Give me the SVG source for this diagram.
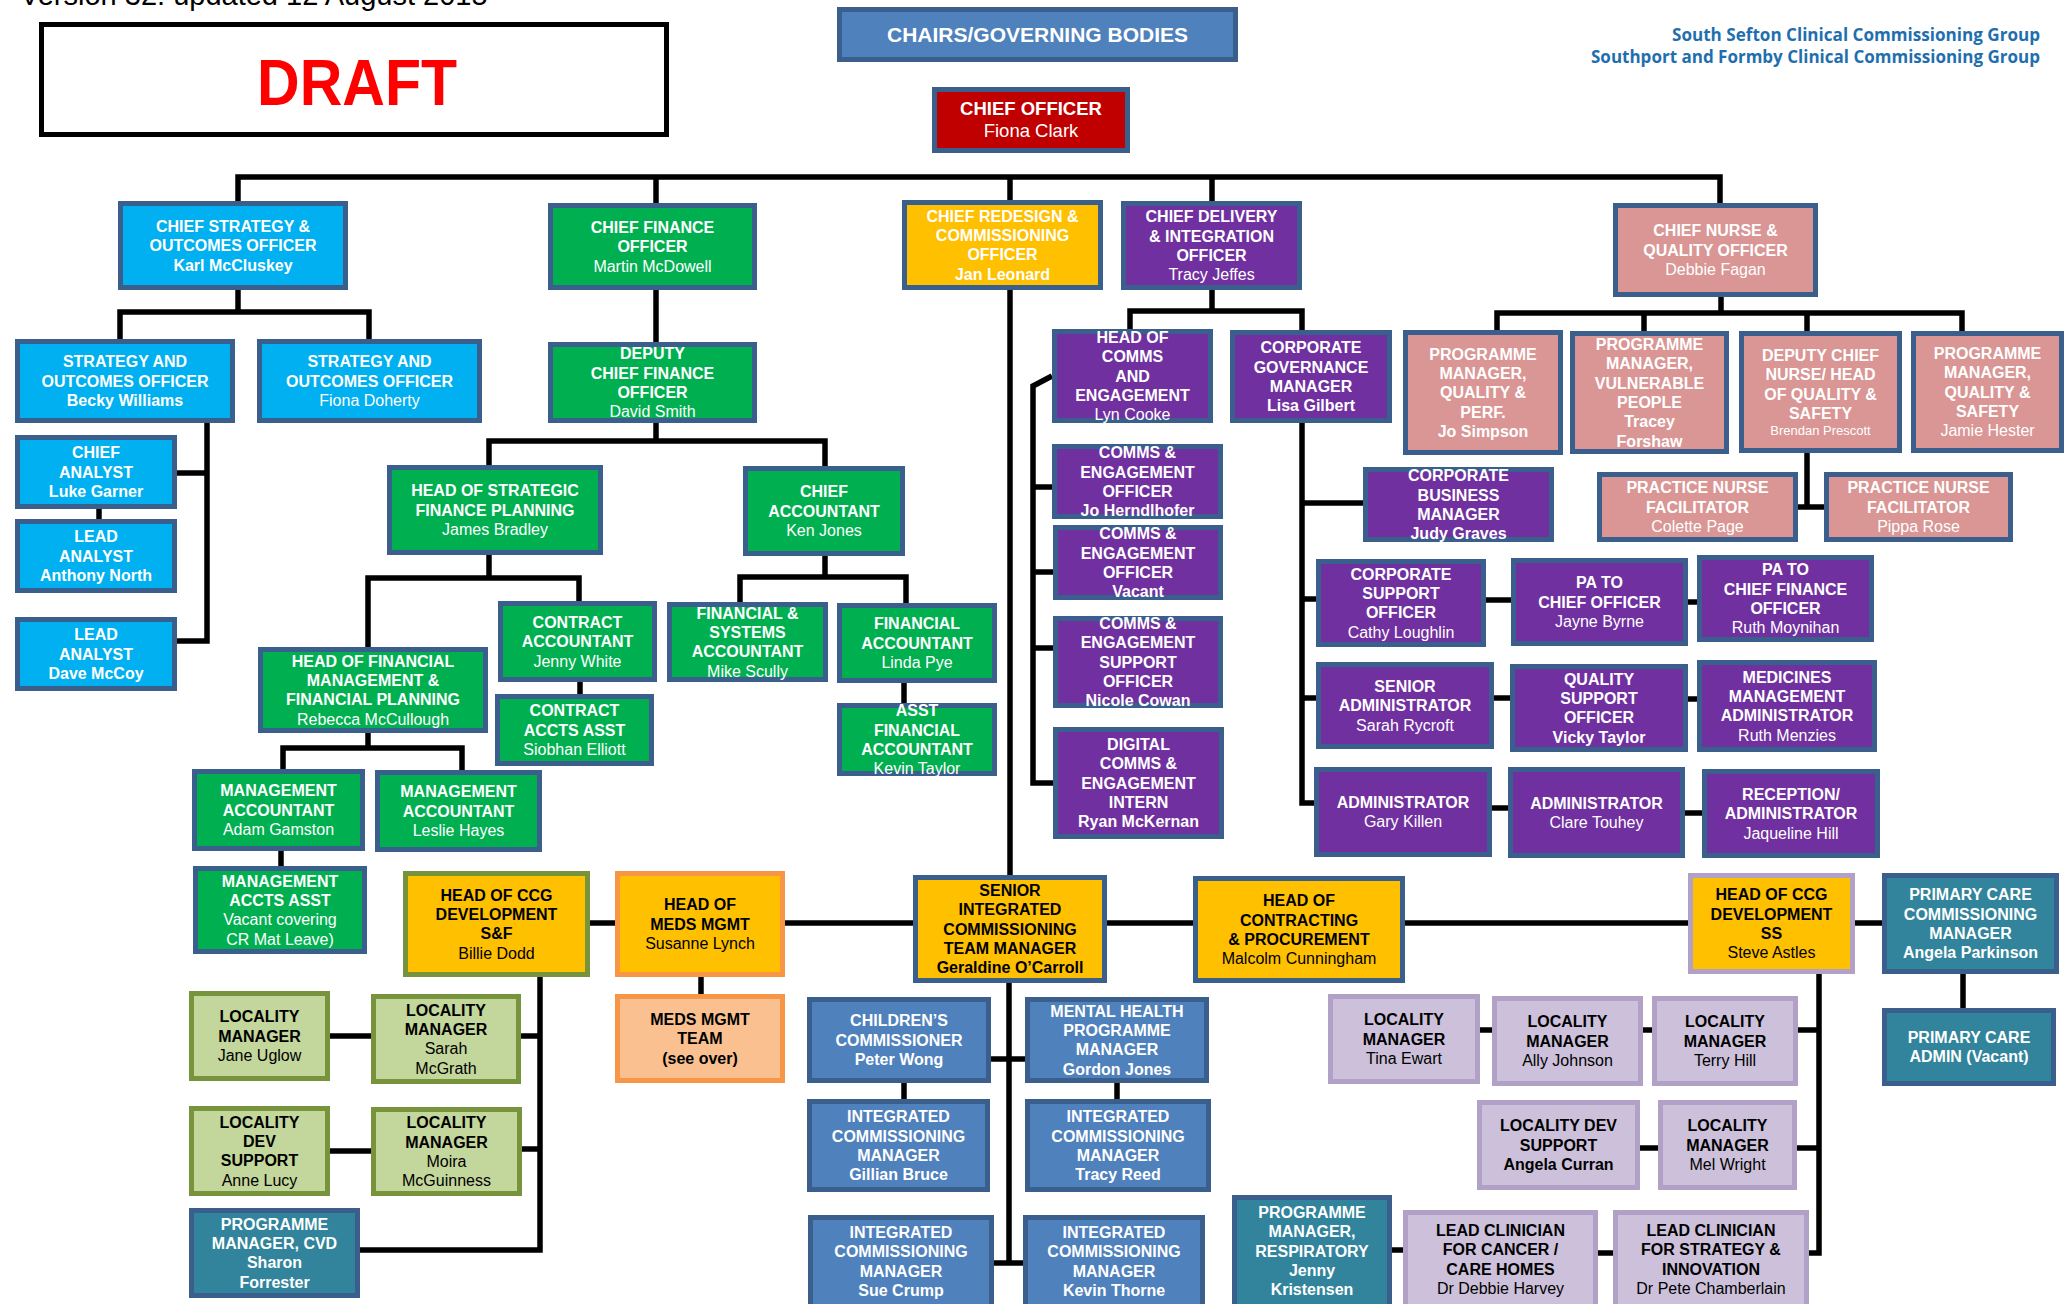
<svg xmlns="http://www.w3.org/2000/svg" width="2065" height="1304" viewBox="0 0 2065 1304">
<style>
.bx{stroke:#3a5f8d;stroke-width:5}
.cy{fill:#00b0f0}.gr{fill:#00b050}.ye{fill:#ffc000}.pu{fill:#7030a0}.pk{fill:#d99694}.bl{fill:#4f81bd}.te{fill:#31849b}.rd{fill:#c00000}
.lg{fill:#c3d69b;stroke:#77933c}.lv{fill:#ccc0da;stroke:#b2a1c7}.pe{fill:#fac090;stroke:#f79646}
.sg{stroke:#77933c}.so{stroke:#f79646}.sl{stroke:#b2a1c7}
text{font-family:"Liberation Sans",Arial,Helvetica,sans-serif}
.t{font-size:16px;font-weight:bold;text-anchor:middle;fill:#fff}
.k{fill:#000}
.r{font-weight:normal}
.c path{fill:none;stroke:#000;stroke-width:5.5}
.logo{font-family:"Open Sans","Liberation Sans",sans-serif;font-weight:bold;font-size:17px;fill:#1f6fae;text-anchor:end}
</style>
<rect width="2065" height="1304" fill="#fff"/>
<g id="header">
<text x="20" y="5" font-size="29" fill="#000">Version 32: updated 12 August 2015</text>
<rect x="41.5" y="24.5" width="625" height="110" fill="#fff" stroke="#000" stroke-width="5"/>
<text x="257" y="105" font-size="64" font-weight="bold" fill="#ff0000" textLength="200" lengthAdjust="spacingAndGlyphs">DRAFT</text>
<text class="logo" x="2040" y="41" textLength="368" lengthAdjust="spacingAndGlyphs">South Sefton Clinical Commissioning Group</text>
<text class="logo" x="2040" y="63" textLength="449" lengthAdjust="spacingAndGlyphs">Southport and Formby Clinical Commissioning Group</text>
</g>
<g id="connectors" class="c">
<path d="M238,201 V177 H1720 V203"/>
<path d="M656,177 V203"/><path d="M1010,177 V875"/><path d="M1212,177 V201"/>
<path d="M238,290 V312"/><path d="M120,339 V312 H369 V339"/>
<path d="M177,641 H207 V423"/><path d="M177,473 H207"/><path d="M99,509 V519"/>
<path d="M656,290 V342"/><path d="M656,423 V441"/><path d="M489,465 V441 H825 V466"/>
<path d="M489,555 V578"/><path d="M368,647 V578 H579 V601"/><path d="M580,682 V694"/>
<path d="M368,733 V748"/><path d="M283,769 V748 H462 V770"/><path d="M281,851 V866"/>
<path d="M825,556 V577"/><path d="M740,602 V577 H906 V603"/><path d="M904,683 V703"/>
<path d="M1212,290 V311"/><path d="M1130,329 V311 H1302 V330"/>
<path d="M1052,376 L1033,386 V783 H1053"/><path d="M1033,487 H1052"/><path d="M1033,572 H1053"/><path d="M1033,648 H1053"/>
<path d="M1302,423 V803 H1314"/><path d="M1302,503 H1363"/><path d="M1302,599 H1316"/><path d="M1302,698 H1316"/>
<path d="M1486,600 H1511"/><path d="M1688,602 H1697"/><path d="M1494,698 H1510"/><path d="M1688,699 H1697"/><path d="M1492,808 H1508"/><path d="M1685,813 H1702"/>
<path d="M1721,297 V313"/><path d="M1497,330 V313 H1962 V331"/><path d="M1644,313 V331"/><path d="M1807,313 V331"/>
<path d="M1807,453 V507"/><path d="M1798,507 H1824"/>
<path d="M590,923 H1882"/>
<path d="M1009,983 V1263"/><path d="M991,1059 H1025"/><path d="M994,1263 H1023"/>
<path d="M904,1083 V1099"/><path d="M1117,1083 V1099"/>
<path d="M540,977 V1250 H360"/><path d="M521,1036 H540"/><path d="M522,1149 H540"/><path d="M330,1036 H371"/><path d="M330,1151 H371"/>
<path d="M701,977 V994"/>
<path d="M1819,974 V1253 H1809"/><path d="M1798,1030 H1819"/><path d="M1797,1148 H1819"/>
<path d="M1480,1030 H1492"/><path d="M1643,1030 H1652"/><path d="M1640,1148 H1658"/><path d="M1598,1253 H1613"/><path d="M1392,1250 H1403"/>
<path d="M1963,974 V1008"/>
</g>
<g id="n-chairs"><rect class="bx bl" x="839.5" y="9.5" width="396" height="50"/><text class="t" x="1037.5" y="42" style="font-size:21px">CHAIRS/GOVERNING BODIES</text></g>
<g id="n-chief-officer"><rect class="bx rd" x="934.5" y="89.5" width="193" height="61"/><text class="t" style="font-size:18.5px"><tspan x="1031" y="115">CHIEF OFFICER</tspan><tspan class="r" x="1031" y="137">Fiona Clark</tspan></text></g>
<g id="n-chief-strategy"><rect class="bx cy" x="120.5" y="203.5" width="225" height="84"/><text class="t"><tspan x="233" y="231.9">CHIEF STRATEGY &amp;</tspan><tspan x="233" y="251.2">OUTCOMES OFFICER</tspan><tspan x="233" y="270.5">Karl McCluskey</tspan></text></g>
<g id="n-cfo"><rect class="bx gr" x="550.5" y="205.5" width="204" height="82"/><text class="t"><tspan x="652.5" y="232.9">CHIEF FINANCE</tspan><tspan x="652.5" y="252.2">OFFICER</tspan><tspan class="r" x="652.5" y="271.5">Martin McDowell</tspan></text></g>
<g id="n-redesign"><rect class="bx ye" x="904.5" y="202.5" width="196" height="85"/><text class="t"><tspan x="1002.5" y="221.8">CHIEF REDESIGN &amp;</tspan><tspan x="1002.5" y="241.1">COMMISSIONING</tspan><tspan x="1002.5" y="260.4">OFFICER</tspan><tspan x="1002.5" y="279.7">Jan Leonard</tspan></text></g>
<g id="n-delivery"><rect class="bx pu" x="1123.5" y="203.5" width="176" height="84"/><text class="t"><tspan x="1211.5" y="222.3">CHIEF DELIVERY</tspan><tspan x="1211.5" y="241.6">&amp; INTEGRATION</tspan><tspan x="1211.5" y="260.9">OFFICER</tspan><tspan class="r" x="1211.5" y="280.2">Tracy Jeffes</tspan></text></g>
<g id="n-chief-nurse"><rect class="bx pk" x="1615.5" y="205.5" width="200" height="89"/><text class="t"><tspan x="1715.5" y="236.4">CHIEF NURSE &amp;</tspan><tspan x="1715.5" y="255.7">QUALITY OFFICER</tspan><tspan class="r" x="1715.5" y="275">Debbie Fagan</tspan></text></g>
<g id="n-becky"><rect class="bx cy" x="17.5" y="341.5" width="215" height="79"/><text class="t"><tspan x="125" y="367.4">STRATEGY AND</tspan><tspan x="125" y="386.7">OUTCOMES OFFICER</tspan><tspan x="125" y="406">Becky Williams</tspan></text></g>
<g id="n-fiona"><rect class="bx cy" x="259.5" y="341.5" width="220" height="79"/><text class="t"><tspan x="369.5" y="367.4">STRATEGY AND</tspan><tspan x="369.5" y="386.7">OUTCOMES OFFICER</tspan><tspan class="r" x="369.5" y="406">Fiona Doherty</tspan></text></g>
<g id="n-deputy-cfo"><rect class="bx gr" x="550.5" y="344.5" width="204" height="76"/><text class="t"><tspan x="652.5" y="359.2">DEPUTY</tspan><tspan x="652.5" y="378.5">CHIEF FINANCE</tspan><tspan x="652.5" y="397.8">OFFICER</tspan><tspan class="r" x="652.5" y="417.1">David Smith</tspan></text></g>
<g id="n-head-comms"><rect class="bx pu" x="1054.5" y="331.5" width="156" height="89"/><text class="t"><tspan x="1132.5" y="343.1">HEAD OF</tspan><tspan x="1132.5" y="362.4">COMMS</tspan><tspan x="1132.5" y="381.7">AND</tspan><tspan x="1132.5" y="401">ENGAGEMENT</tspan><tspan class="r" x="1132.5" y="420.3">Lyn Cooke</tspan></text></g>
<g id="n-corp-gov"><rect class="bx pu" x="1232.5" y="332.5" width="157" height="88"/><text class="t"><tspan x="1311" y="353.2">CORPORATE</tspan><tspan x="1311" y="372.5">GOVERNANCE</tspan><tspan x="1311" y="391.8">MANAGER</tspan><tspan x="1311" y="411.1">Lisa Gilbert</tspan></text></g>
<g id="n-jo-simpson"><rect class="bx pk" x="1405.5" y="332.5" width="155" height="120"/><text class="t"><tspan x="1483" y="359.6">PROGRAMME</tspan><tspan x="1483" y="378.9">MANAGER,</tspan><tspan x="1483" y="398.2">QUALITY &amp;</tspan><tspan x="1483" y="417.5">PERF.</tspan><tspan x="1483" y="436.8">Jo Simpson</tspan></text></g>
<g id="n-tracey"><rect class="bx pk" x="1572.5" y="333.5" width="154" height="118"/><text class="t"><tspan x="1649.5" y="350">PROGRAMME</tspan><tspan x="1649.5" y="369.3">MANAGER,</tspan><tspan x="1649.5" y="388.6">VULNERABLE</tspan><tspan x="1649.5" y="407.9">PEOPLE</tspan><tspan x="1649.5" y="427.2">Tracey</tspan><tspan x="1649.5" y="446.5">Forshaw</tspan></text></g>
<g id="n-brendan"><rect class="bx pk" x="1741.5" y="333.5" width="158" height="117"/><text class="t"><tspan x="1820.5" y="361">DEPUTY CHIEF</tspan><tspan x="1820.5" y="380.3">NURSE/ HEAD</tspan><tspan x="1820.5" y="399.6">OF QUALITY &amp;</tspan><tspan x="1820.5" y="418.9">SAFETY</tspan><tspan class="r" x="1820.5" y="435" style="font-size:13px">Brendan Prescott</tspan></text></g>
<g id="n-jamie"><rect class="bx pk" x="1913.5" y="333.5" width="148" height="117"/><text class="t"><tspan x="1987.5" y="359.1">PROGRAMME</tspan><tspan x="1987.5" y="378.4">MANAGER,</tspan><tspan x="1987.5" y="397.7">QUALITY &amp;</tspan><tspan x="1987.5" y="417">SAFETY</tspan><tspan class="r" x="1987.5" y="436.3">Jamie Hester</tspan></text></g>
<g id="n-luke"><rect class="bx cy" x="17.5" y="437.5" width="157" height="69"/><text class="t"><tspan x="96" y="458.4">CHIEF</tspan><tspan x="96" y="477.7">ANALYST</tspan><tspan x="96" y="497">Luke Garner</tspan></text></g>
<g id="n-anthony"><rect class="bx cy" x="17.5" y="521.5" width="157" height="69"/><text class="t"><tspan x="96" y="542.4">LEAD</tspan><tspan x="96" y="561.7">ANALYST</tspan><tspan x="96" y="581">Anthony North</tspan></text></g>
<g id="n-dave"><rect class="bx cy" x="17.5" y="619.5" width="157" height="69"/><text class="t"><tspan x="96" y="640.4">LEAD</tspan><tspan x="96" y="659.7">ANALYST</tspan><tspan x="96" y="679">Dave McCoy</tspan></text></g>
<g id="n-james"><rect class="bx gr" x="389.5" y="467.5" width="211" height="85"/><text class="t"><tspan x="495" y="496.4">HEAD OF STRATEGIC</tspan><tspan x="495" y="515.7">FINANCE PLANNING</tspan><tspan class="r" x="495" y="535">James Bradley</tspan></text></g>
<g id="n-ken"><rect class="bx gr" x="745.5" y="468.5" width="157" height="85"/><text class="t"><tspan x="824" y="497.4">CHIEF</tspan><tspan x="824" y="516.7">ACCOUNTANT</tspan><tspan class="r" x="824" y="536">Ken Jones</tspan></text></g>
<g id="n-rebecca"><rect class="bx gr" x="260.5" y="649.5" width="225" height="81"/><text class="t"><tspan x="373" y="666.75">HEAD OF FINANCIAL</tspan><tspan x="373" y="686.05">MANAGEMENT &amp;</tspan><tspan x="373" y="705.35">FINANCIAL PLANNING</tspan><tspan class="r" x="373" y="724.65">Rebecca McCullough</tspan></text></g>
<g id="n-jenny"><rect class="bx gr" x="500.5" y="603.5" width="154" height="76"/><text class="t"><tspan x="577.5" y="627.9">CONTRACT</tspan><tspan x="577.5" y="647.2">ACCOUNTANT</tspan><tspan class="r" x="577.5" y="666.5">Jenny White</tspan></text></g>
<g id="n-siobhan"><rect class="bx gr" x="497.5" y="696.5" width="154" height="67"/><text class="t"><tspan x="574.5" y="716.4">CONTRACT</tspan><tspan x="574.5" y="735.7">ACCTS ASST</tspan><tspan class="r" x="574.5" y="755">Siobhan Elliott</tspan></text></g>
<g id="n-mike"><rect class="bx gr" x="669.5" y="604.5" width="156" height="75"/><text class="t"><tspan x="747.5" y="618.75">FINANCIAL &amp;</tspan><tspan x="747.5" y="638.05">SYSTEMS</tspan><tspan x="747.5" y="657.35">ACCOUNTANT</tspan><tspan class="r" x="747.5" y="676.65">Mike Scully</tspan></text></g>
<g id="n-linda"><rect class="bx gr" x="839.5" y="605.5" width="155" height="75"/><text class="t"><tspan x="917" y="629.4">FINANCIAL</tspan><tspan x="917" y="648.7">ACCOUNTANT</tspan><tspan class="r" x="917" y="668">Linda Pye</tspan></text></g>
<g id="n-kevin-taylor"><rect class="bx gr" x="839.5" y="705.5" width="155" height="68"/><text class="t"><tspan x="917" y="716.25">ASST</tspan><tspan x="917" y="735.55">FINANCIAL</tspan><tspan x="917" y="754.85">ACCOUNTANT</tspan><tspan class="r" x="917" y="774.15">Kevin Taylor</tspan></text></g>
<g id="n-adam"><rect class="bx gr" x="194.5" y="771.5" width="168" height="77"/><text class="t"><tspan x="278.5" y="796.4">MANAGEMENT</tspan><tspan x="278.5" y="815.7">ACCOUNTANT</tspan><tspan class="r" x="278.5" y="835">Adam Gamston</tspan></text></g>
<g id="n-leslie"><rect class="bx gr" x="377.5" y="772.5" width="162" height="77"/><text class="t"><tspan x="458.5" y="797.4">MANAGEMENT</tspan><tspan x="458.5" y="816.7">ACCOUNTANT</tspan><tspan class="r" x="458.5" y="836">Leslie Hayes</tspan></text></g>
<g id="n-mgmt-asst"><rect class="bx gr" x="195.5" y="868.5" width="169" height="83"/><text class="t"><tspan x="280" y="886.75">MANAGEMENT</tspan><tspan x="280" y="906.05">ACCTS ASST</tspan><tspan class="r" x="280" y="925.35">Vacant covering</tspan><tspan class="r" x="280" y="944.65">CR Mat Leave)</tspan></text></g>
<g id="n-comms-jo"><rect class="bx pu" x="1054.5" y="446.5" width="166" height="70"/><text class="t"><tspan x="1137.5" y="458.25">COMMS &amp;</tspan><tspan x="1137.5" y="477.55">ENGAGEMENT</tspan><tspan x="1137.5" y="496.85">OFFICER</tspan><tspan x="1137.5" y="516.15">Jo Herndlhofer</tspan></text></g>
<g id="n-comms-vacant"><rect class="bx pu" x="1055.5" y="527.5" width="165" height="70"/><text class="t"><tspan x="1138" y="539.25">COMMS &amp;</tspan><tspan x="1138" y="558.55">ENGAGEMENT</tspan><tspan x="1138" y="577.85">OFFICER</tspan><tspan x="1138" y="597.15">Vacant</tspan></text></g>
<g id="n-nicole"><rect class="bx pu" x="1055.5" y="618.5" width="165" height="87"/><text class="t"><tspan x="1138" y="629.1">COMMS &amp;</tspan><tspan x="1138" y="648.4">ENGAGEMENT</tspan><tspan x="1138" y="667.7">SUPPORT</tspan><tspan x="1138" y="687">OFFICER</tspan><tspan x="1138" y="706.3">Nicole Cowan</tspan></text></g>
<g id="n-ryan"><rect class="bx pu" x="1055.5" y="729.5" width="166" height="107"/><text class="t"><tspan x="1138.5" y="750.1">DIGITAL</tspan><tspan x="1138.5" y="769.4">COMMS &amp;</tspan><tspan x="1138.5" y="788.7">ENGAGEMENT</tspan><tspan x="1138.5" y="808">INTERN</tspan><tspan x="1138.5" y="827.3">Ryan McKernan</tspan></text></g>
<g id="n-judy"><rect class="bx pu" x="1365.5" y="469.5" width="186" height="70"/><text class="t"><tspan x="1458.5" y="481.25">CORPORATE</tspan><tspan x="1458.5" y="500.55">BUSINESS</tspan><tspan x="1458.5" y="519.85">MANAGER</tspan><tspan x="1458.5" y="539.15">Judy Graves</tspan></text></g>
<g id="n-colette"><rect class="bx pk" x="1599.5" y="474.5" width="196" height="65"/><text class="t"><tspan x="1697.5" y="493.4">PRACTICE NURSE</tspan><tspan x="1697.5" y="512.7">FACILITATOR</tspan><tspan class="r" x="1697.5" y="532">Colette Page</tspan></text></g>
<g id="n-pippa"><rect class="bx pk" x="1826.5" y="474.5" width="184" height="65"/><text class="t"><tspan x="1918.5" y="493.4">PRACTICE NURSE</tspan><tspan x="1918.5" y="512.7">FACILITATOR</tspan><tspan class="r" x="1918.5" y="532">Pippa Rose</tspan></text></g>
<g id="n-cathy"><rect class="bx pu" x="1318.5" y="561.5" width="165" height="83"/><text class="t"><tspan x="1401" y="579.75">CORPORATE</tspan><tspan x="1401" y="599.05">SUPPORT</tspan><tspan x="1401" y="618.35">OFFICER</tspan><tspan class="r" x="1401" y="637.65">Cathy Loughlin</tspan></text></g>
<g id="n-jayne"><rect class="bx pu" x="1513.5" y="560.5" width="172" height="83"/><text class="t"><tspan x="1599.5" y="588.4">PA TO</tspan><tspan x="1599.5" y="607.7">CHIEF OFFICER</tspan><tspan class="r" x="1599.5" y="627">Jayne Byrne</tspan></text></g>
<g id="n-ruth-moynihan"><rect class="bx pu" x="1699.5" y="557.5" width="172" height="82"/><text class="t"><tspan x="1785.5" y="575.25">PA TO</tspan><tspan x="1785.5" y="594.55">CHIEF FINANCE</tspan><tspan x="1785.5" y="613.85">OFFICER</tspan><tspan class="r" x="1785.5" y="633.15">Ruth Moynihan</tspan></text></g>
<g id="n-sarah-rycroft"><rect class="bx pu" x="1318.5" y="664.5" width="173" height="82"/><text class="t"><tspan x="1405" y="691.9">SENIOR</tspan><tspan x="1405" y="711.2">ADMINISTRATOR</tspan><tspan class="r" x="1405" y="730.5">Sarah Rycroft</tspan></text></g>
<g id="n-vicky"><rect class="bx pu" x="1512.5" y="666.5" width="173" height="83"/><text class="t"><tspan x="1599" y="684.75">QUALITY</tspan><tspan x="1599" y="704.05">SUPPORT</tspan><tspan x="1599" y="723.35">OFFICER</tspan><tspan x="1599" y="742.65">Vicky Taylor</tspan></text></g>
<g id="n-ruth-menzies"><rect class="bx pu" x="1699.5" y="662.5" width="175" height="87"/><text class="t"><tspan x="1787" y="682.75">MEDICINES</tspan><tspan x="1787" y="702.05">MANAGEMENT</tspan><tspan x="1787" y="721.35">ADMINISTRATOR</tspan><tspan class="r" x="1787" y="740.65">Ruth Menzies</tspan></text></g>
<g id="n-gary"><rect class="bx pu" x="1316.5" y="769.5" width="173" height="85"/><text class="t"><tspan x="1403" y="808.05">ADMINISTRATOR</tspan><tspan class="r" x="1403" y="827.35">Gary Killen</tspan></text></g>
<g id="n-clare"><rect class="bx pu" x="1510.5" y="769.5" width="172" height="86"/><text class="t"><tspan x="1596.5" y="808.55">ADMINISTRATOR</tspan><tspan class="r" x="1596.5" y="827.85">Clare Touhey</tspan></text></g>
<g id="n-jaqueline"><rect class="bx pu" x="1704.5" y="771.5" width="173" height="84"/><text class="t"><tspan x="1791" y="799.9">RECEPTION/</tspan><tspan x="1791" y="819.2">ADMINISTRATOR</tspan><tspan class="r" x="1791" y="838.5">Jaqueline Hill</tspan></text></g>
<g id="n-billie"><rect class="bx ye sg" x="405.5" y="873.5" width="182" height="101"/><text class="t k"><tspan x="496.5" y="900.75">HEAD OF CCG</tspan><tspan x="496.5" y="920.05">DEVELOPMENT</tspan><tspan x="496.5" y="939.35">S&amp;F</tspan><tspan class="r" x="496.5" y="958.65">Billie Dodd</tspan></text></g>
<g id="n-susanne"><rect class="bx ye so" x="617.5" y="873.5" width="165" height="101"/><text class="t k"><tspan x="700" y="910.4">HEAD OF</tspan><tspan x="700" y="929.7">MEDS MGMT</tspan><tspan class="r" x="700" y="949">Susanne Lynch</tspan></text></g>
<g id="n-meds-team"><rect class="bx pe" x="617.5" y="996.5" width="165" height="84"/><text class="t k"><tspan x="700" y="1024.9">MEDS MGMT</tspan><tspan x="700" y="1044.2">TEAM</tspan><tspan x="700" y="1063.5">(see over)</tspan></text></g>
<g id="n-geraldine"><rect class="bx ye" x="915.5" y="877.5" width="189" height="103"/><text class="t k"><tspan x="1010" y="896.1">SENIOR</tspan><tspan x="1010" y="915.4">INTEGRATED</tspan><tspan x="1010" y="934.7">COMMISSIONING</tspan><tspan x="1010" y="954">TEAM MANAGER</tspan><tspan x="1010" y="973.3">Geraldine O’Carroll</tspan></text></g>
<g id="n-malcolm"><rect class="bx ye" x="1195.5" y="878.5" width="207" height="102"/><text class="t k"><tspan x="1299" y="906.25">HEAD OF</tspan><tspan x="1299" y="925.55">CONTRACTING</tspan><tspan x="1299" y="944.85">&amp; PROCUREMENT</tspan><tspan class="r" x="1299" y="964.15">Malcolm Cunningham</tspan></text></g>
<g id="n-steve"><rect class="bx ye sl" x="1690.5" y="875.5" width="162" height="96"/><text class="t k"><tspan x="1771.5" y="900.25">HEAD OF CCG</tspan><tspan x="1771.5" y="919.55">DEVELOPMENT</tspan><tspan x="1771.5" y="938.85">SS</tspan><tspan class="r" x="1771.5" y="958.15">Steve Astles</tspan></text></g>
<g id="n-angela-parkinson"><rect class="bx te" x="1884.5" y="875.5" width="172" height="96"/><text class="t"><tspan x="1970.5" y="900.25">PRIMARY CARE</tspan><tspan x="1970.5" y="919.55">COMMISSIONING</tspan><tspan x="1970.5" y="938.85">MANAGER</tspan><tspan x="1970.5" y="958.15">Angela Parkinson</tspan></text></g>
<g id="n-pc-admin"><rect class="bx te" x="1884.5" y="1010.5" width="169" height="73"/><text class="t"><tspan x="1969" y="1043.05">PRIMARY CARE</tspan><tspan x="1969" y="1062.35">ADMIN (Vacant)</tspan></text></g>
<g id="n-jane"><rect class="bx lg" x="191.5" y="993.5" width="136" height="85"/><text class="t k"><tspan x="259.5" y="1022.4">LOCALITY</tspan><tspan x="259.5" y="1041.7">MANAGER</tspan><tspan class="r" x="259.5" y="1061">Jane Uglow</tspan></text></g>
<g id="n-sarah-mcgrath"><rect class="bx lg" x="373.5" y="996.5" width="145" height="85"/><text class="t k"><tspan x="446" y="1015.75">LOCALITY</tspan><tspan x="446" y="1035.05">MANAGER</tspan><tspan class="r" x="446" y="1054.35">Sarah</tspan><tspan class="r" x="446" y="1073.65">McGrath</tspan></text></g>
<g id="n-anne"><rect class="bx lg" x="191.5" y="1108.5" width="136" height="85"/><text class="t k"><tspan x="259.5" y="1127.75">LOCALITY</tspan><tspan x="259.5" y="1147.05">DEV</tspan><tspan x="259.5" y="1166.35">SUPPORT</tspan><tspan class="r" x="259.5" y="1185.65">Anne Lucy</tspan></text></g>
<g id="n-moira"><rect class="bx lg" x="373.5" y="1109.5" width="146" height="84"/><text class="t k"><tspan x="446.5" y="1128.25">LOCALITY</tspan><tspan x="446.5" y="1147.55">MANAGER</tspan><tspan class="r" x="446.5" y="1166.85">Moira</tspan><tspan class="r" x="446.5" y="1186.15">McGuinness</tspan></text></g>
<g id="n-sharon"><rect class="bx te" x="191.5" y="1210.5" width="166" height="85"/><text class="t"><tspan x="274.5" y="1229.75">PROGRAMME</tspan><tspan x="274.5" y="1249.05">MANAGER, CVD</tspan><tspan x="274.5" y="1268.35">Sharon</tspan><tspan x="274.5" y="1287.65">Forrester</tspan></text></g>
<g id="n-peter"><rect class="bx bl" x="809.5" y="999.5" width="179" height="81"/><text class="t"><tspan x="899" y="1026.4">CHILDREN’S</tspan><tspan x="899" y="1045.7">COMMISSIONER</tspan><tspan x="899" y="1065">Peter Wong</tspan></text></g>
<g id="n-gordon"><rect class="bx bl" x="1027.5" y="999.5" width="179" height="81"/><text class="t"><tspan x="1117" y="1016.75">MENTAL HEALTH</tspan><tspan x="1117" y="1036.05">PROGRAMME</tspan><tspan x="1117" y="1055.35">MANAGER</tspan><tspan x="1117" y="1074.65">Gordon Jones</tspan></text></g>
<g id="n-gillian"><rect class="bx bl" x="809.5" y="1101.5" width="178" height="88"/><text class="t"><tspan x="898.5" y="1122.25">INTEGRATED</tspan><tspan x="898.5" y="1141.55">COMMISSIONING</tspan><tspan x="898.5" y="1160.85">MANAGER</tspan><tspan x="898.5" y="1180.15">Gillian Bruce</tspan></text></g>
<g id="n-tracy-reed"><rect class="bx bl" x="1027.5" y="1101.5" width="181" height="88"/><text class="t"><tspan x="1118" y="1122.25">INTEGRATED</tspan><tspan x="1118" y="1141.55">COMMISSIONING</tspan><tspan x="1118" y="1160.85">MANAGER</tspan><tspan x="1118" y="1180.15">Tracy Reed</tspan></text></g>
<g id="n-sue"><rect class="bx bl" x="810.5" y="1217.5" width="181" height="92"/><text class="t"><tspan x="901" y="1238">INTEGRATED</tspan><tspan x="901" y="1257.3">COMMISSIONING</tspan><tspan x="901" y="1276.6">MANAGER</tspan><tspan x="901" y="1295.9">Sue Crump</tspan></text></g>
<g id="n-kevin-thorne"><rect class="bx bl" x="1025.5" y="1217.5" width="177" height="92"/><text class="t"><tspan x="1114" y="1238">INTEGRATED</tspan><tspan x="1114" y="1257.3">COMMISSIONING</tspan><tspan x="1114" y="1276.6">MANAGER</tspan><tspan x="1114" y="1295.9">Kevin Thorne</tspan></text></g>
<g id="n-jenny-k"><rect class="bx te" x="1234.5" y="1197.5" width="155" height="112"/><text class="t"><tspan x="1312" y="1218">PROGRAMME</tspan><tspan x="1312" y="1237.3">MANAGER,</tspan><tspan x="1312" y="1256.6">RESPIRATORY</tspan><tspan x="1312" y="1275.9">Jenny</tspan><tspan x="1312" y="1295.2">Kristensen</tspan></text></g>
<g id="n-tina"><rect class="bx lv" x="1330.5" y="996.5" width="147" height="85"/><text class="t k"><tspan x="1404" y="1025.4">LOCALITY</tspan><tspan x="1404" y="1044.7">MANAGER</tspan><tspan class="r" x="1404" y="1064">Tina Ewart</tspan></text></g>
<g id="n-ally"><rect class="bx lv" x="1494.5" y="998.5" width="146" height="85"/><text class="t k"><tspan x="1567.5" y="1027.4">LOCALITY</tspan><tspan x="1567.5" y="1046.7">MANAGER</tspan><tspan class="r" x="1567.5" y="1066">Ally Johnson</tspan></text></g>
<g id="n-terry"><rect class="bx lv" x="1654.5" y="998.5" width="141" height="85"/><text class="t k"><tspan x="1725" y="1027.4">LOCALITY</tspan><tspan x="1725" y="1046.7">MANAGER</tspan><tspan class="r" x="1725" y="1066">Terry Hill</tspan></text></g>
<g id="n-angela-curran"><rect class="bx lv" x="1479.5" y="1102.5" width="158" height="85"/><text class="t k"><tspan x="1558.5" y="1131.4">LOCALITY DEV</tspan><tspan x="1558.5" y="1150.7">SUPPORT</tspan><tspan x="1558.5" y="1170">Angela Curran</tspan></text></g>
<g id="n-mel"><rect class="bx lv" x="1660.5" y="1102.5" width="134" height="85"/><text class="t k"><tspan x="1727.5" y="1131.4">LOCALITY</tspan><tspan x="1727.5" y="1150.7">MANAGER</tspan><tspan class="r" x="1727.5" y="1170">Mel Wright</tspan></text></g>
<g id="n-debbie-harvey"><rect class="bx lv" x="1405.5" y="1212.5" width="190" height="97"/><text class="t k"><tspan x="1500.5" y="1236">LEAD CLINICIAN</tspan><tspan x="1500.5" y="1255.3">FOR CANCER /</tspan><tspan x="1500.5" y="1274.6">CARE HOMES</tspan><tspan class="r" x="1500.5" y="1293.9">Dr Debbie Harvey</tspan></text></g>
<g id="n-pete"><rect class="bx lv" x="1615.5" y="1212.5" width="191" height="97"/><text class="t k"><tspan x="1711" y="1236">LEAD CLINICIAN</tspan><tspan x="1711" y="1255.3">FOR STRATEGY &amp;</tspan><tspan x="1711" y="1274.6">INNOVATION</tspan><tspan class="r" x="1711" y="1293.9">Dr Pete Chamberlain</tspan></text></g>
</svg>
